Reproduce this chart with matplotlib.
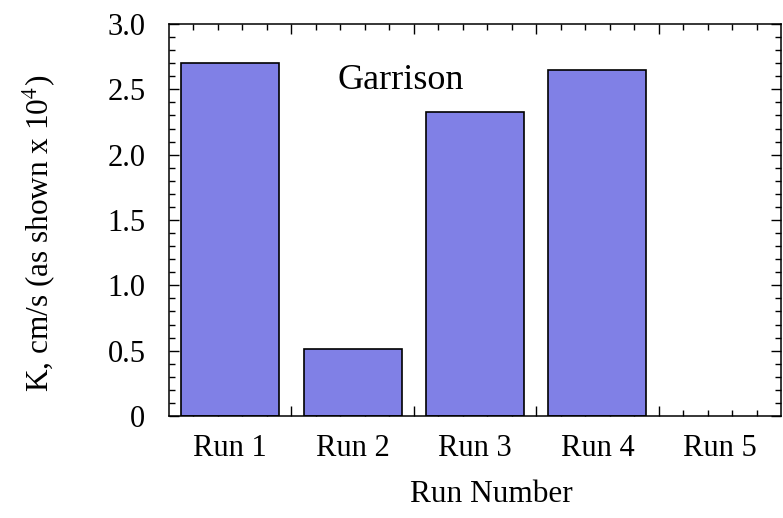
import numpy as np
import matplotlib
matplotlib.use("Agg")
import matplotlib.pyplot as plt
from matplotlib.ticker import FixedLocator, MultipleLocator

runs = ["Run 1", "Run 2", "Run 3", "Run 4", "Run 5"]
k_values = [2.70, 0.51, 2.33, 2.65, np.nan]  # Run 5 has no bar
y_ticks = [0, 0.5, 1.0, 1.5, 2.0, 2.5, 3.0]
y_tick_labels = ["0", "0.5", "1.0", "1.5", "2.0", "2.5", "3.0"]

plt.rcParams["font.family"] = ["Liberation Serif", "DejaVu Serif"]
plt.rcParams["mathtext.fontset"] = "stix"

fig = plt.figure(figsize=(7.83, 5.18), dpi=100)
ax = fig.add_axes([169 / 783, 102 / 518, 612 / 783, 392 / 518])

x = np.arange(1, len(runs) + 1)
vals = np.array(k_values, dtype=float)
mask = ~np.isnan(vals)
ax.bar(x[mask], vals[mask], width=0.8, color="#8080e6",
       edgecolor="black", linewidth=1.2, zorder=2)

ax.set_xlim(0.5, len(runs) + 0.5)
ax.set_ylim(0, 3.0)

# x: long ticks between runs, short ticks every 0.2, labels at bar centres
ax.xaxis.set_major_locator(FixedLocator(np.arange(1.5, len(runs), 1.0)))
ax.xaxis.set_minor_locator(FixedLocator(np.arange(0.7, len(runs) + 0.5, 0.2)))
ax.set_xticklabels([])
ax.yaxis.set_major_locator(FixedLocator(y_ticks))
ax.set_yticklabels(y_tick_labels)
ax.yaxis.set_minor_locator(MultipleLocator(0.1))

ax.tick_params(which="both", direction="in", top=True, right=True,
               width=1.0, labelsize=22)
ax.tick_params(which="major", length=7.5)
ax.tick_params(which="minor", length=4.3)
ax.tick_params(axis="y", pad=17)
for sp in ax.spines.values():
    sp.set_linewidth(1.1)

lab = ax.secondary_xaxis("bottom")
lab.set_xticks(x)
lab.set_xticklabels(runs)
lab.tick_params(length=0, labelsize=22, pad=13)
lab.spines["bottom"].set_visible(False)

ax.text(2.39, 2.57, "Garrison", fontsize=26, ha="center", va="center")

ax.set_xlabel("Run Number", fontsize=22.5)
ax.xaxis.set_label_coords(0.526, -0.2015)
ax.set_ylabel("K, cm/s (as shown x 10$^{4}$)", fontsize=22.5)
ax.yaxis.set_label_coords(-0.211, 0.465)
ax.yaxis.label.set_va("center")
ax.xaxis.label.set_va("center")

fig.savefig("out.png", dpi=100)
